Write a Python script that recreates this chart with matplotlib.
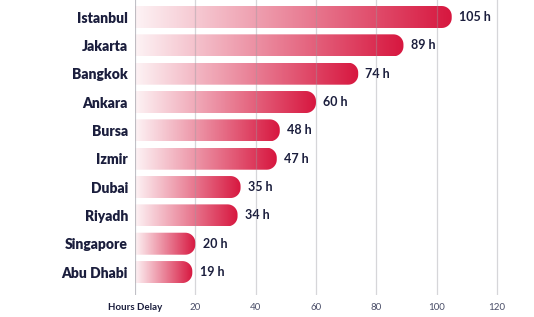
import numpy as np
import matplotlib.pyplot as plt
from matplotlib.path import Path
from matplotlib.patches import PathPatch
from matplotlib.colors import LinearSegmentedColormap

# Data
cities = ["Istanbul", "Jakarta", "Bangkok", "Ankara", "Bursa",
          "Izmir", "Dubai", "Riyadh", "Singapore", "Abu Dhabi"]
hours = [105, 89, 74, 60, 48, 47, 35, 34, 20, 19]
ticks = [0, 20, 40, 60, 80, 100, 120]
tick_labels = ["Hours Delay", "20", "40", "60", "80", "100", "120"]

navy = "#1b1e3d"
fade = LinearSegmentedColormap.from_list("fade", ["#fdf3f5", "#d7173f"])

plt.rcParams['font.family'] = ['Lato', 'DejaVu Sans']

W, H = 534, 317
fig = plt.figure(figsize=(W / 100, H / 100), dpi=100)
ax = fig.add_axes([135 / W, 22 / H, 368 / W, 295 / H])
xlim = (0, 122)
ylim = (9.81, -0.6)

# pixel scale, used to keep the rounded ends round
ppx = 368 / (xlim[1] - xlim[0])
ppy = 295 / (ylim[0] - ylim[1])
bar_h = 22 / ppy
rad = 10
rx, ry = rad / ppx, rad / ppy


def rounded_bar(v, yc):
    y0, y1 = yc - bar_h / 2, yc + bar_h / 2
    t = np.linspace(-np.pi / 2, 0, 12)
    low = np.column_stack([v - rx + rx * np.cos(t), y0 + ry + ry * np.sin(t)])
    t = np.linspace(0, np.pi / 2, 12)
    high = np.column_stack([v - rx + rx * np.cos(t), y1 - ry + ry * np.sin(t)])
    pts = np.vstack([[[0, y0]], low, high, [[0, y1]], [[0, y0]]])
    return Path(pts, closed=True)


grad = np.linspace(0, 1, 256).reshape(1, -1)
for i, v in enumerate(hours):
    patch = PathPatch(rounded_bar(v, i), facecolor="none", edgecolor="none",
                      transform=ax.transData)
    ax.add_patch(patch)
    im = ax.imshow(grad, extent=(0, v, i + bar_h / 2, i - bar_h / 2),
                   cmap=fade, aspect="auto", zorder=2, interpolation="bilinear")
    im.set_clip_path(patch)
    ax.text(v + 2.4, i, f"{v} h", va="center", ha="left", fontsize=9,
            fontweight="bold", color=navy)

ax.set_xlim(*xlim)
ax.set_ylim(*ylim)

# faint grid lines sit over the bars
for x in ticks:
    ax.axvline(x, color="#9a9aa0", alpha=0.4, lw=0.9, zorder=3)
ax.axvline(0, color="#a8a8b0", alpha=0.6, lw=1.1, zorder=3)

for s in ax.spines.values():
    s.set_visible(False)

ax.set_yticks(range(len(cities)), cities)
ax.tick_params(axis="y", length=0, pad=5, labelsize=10, labelcolor=navy)
for lab in ax.get_yticklabels():
    lab.set_fontweight("heavy")

ax.set_xticks(ticks, tick_labels)
ax.tick_params(axis="x", length=0, pad=6, labelsize=7, labelcolor="#4a4e68")
ax.get_xticklabels()[0].set_fontweight("bold")
ax.get_xticklabels()[0].set_color(navy)

plt.savefig("out.png", dpi=100)
